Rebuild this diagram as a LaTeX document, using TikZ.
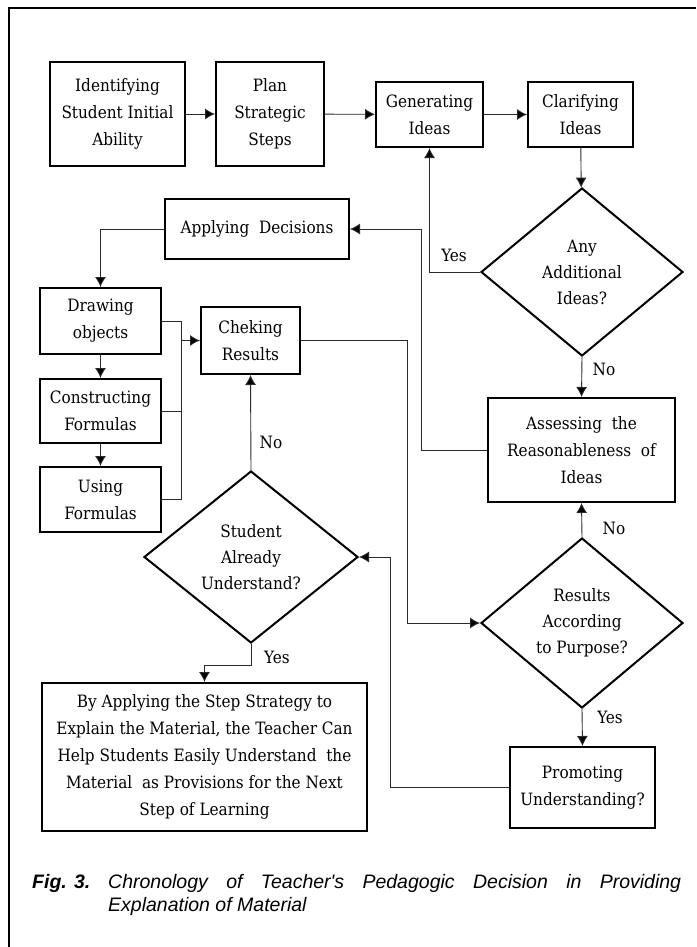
\documentclass[tikz,border=0pt]{standalone}
\usepackage{fontspec}
\setmainfont{DejaVu Serif Condensed}
\newfontfamily\capfont{Liberation Sans}
\usetikzlibrary{shapes.geometric,arrows.meta}

\definecolor{lgray}{HTML}{2A2A2A}

\tikzset{
  stepbox/.style={draw,line width=2pt,align=center,inner sep=0pt,
    font=\fontsize{17}{27}\selectfont},
  askbox/.style={draw,diamond,line width=2pt,align=center,inner sep=0pt,
    font=\fontsize{17}{26}\selectfont},
  link/.style={draw=lgray,line width=0.9pt},
  linkto/.style={link,-{Latex[length=10pt,width=11pt,fill=black]}},
  answer/.style={inner sep=0pt,font=\fontsize{17}{23}\selectfont}
}

\begin{document}
\begin{tikzpicture}[x=1pt,y=-1pt]
  \useasboundingbox (0,0) rectangle (696,947);
  \draw[line width=2pt] (9,947) -- (9,8) -- (696,8);

  \node[stepbox,minimum width=135pt,minimum height=104pt] (ident) at (117.5,114) {Identifying\\Student Initial\\Ability};
  \node[stepbox,minimum width=108pt,minimum height=104pt] (plan) at (270,114) {Plan\\Strategic\\Steps};
  \node[stepbox,minimum width=107pt,minimum height=65pt] (gen) at (429.5,114.5) {Generating\\Ideas};
  \node[stepbox,minimum width=105pt,minimum height=65pt] (clar) at (580.5,114.5) {Clarifying\\Ideas};
  \node[askbox,minimum width=202pt,minimum height=168pt] (addq) at (582,272) {Any\\Additional\\Ideas?};
  \node[stepbox,minimum width=184pt,minimum height=60pt] (apply) at (257,229) {Applying~ Decisions};
  \node[stepbox,minimum width=121pt,minimum height=66pt] (drawobj) at (100.5,321) {Drawing\\objects};
  \node[stepbox,minimum width=121pt,minimum height=64pt] (constr) at (100.5,411) {Constructing\\Formulas};
  \node[stepbox,minimum width=121pt,minimum height=65pt] (using) at (100.5,499.5) {Using\\Formulas};
  \node[stepbox,minimum width=99pt,minimum height=67pt] (check) at (250.5,340.5) {Cheking\\Results};
  \node[stepbox,minimum width=187pt,minimum height=104pt] (assess) at (581.5,450) {Assessing~ the\\Reasonableness~ of\\Ideas};
  \node[askbox,minimum width=214pt,minimum height=172pt] (underq) at (251,557) {Student\\Already\\Understand?};
  \node[askbox,minimum width=202pt,minimum height=170pt] (resq) at (582,623) {Results\\According\\to Purpose?};
  \node[stepbox,minimum width=145pt,minimum height=81pt] (promo) at (582.5,787.5) {Promoting\\Understanding?};
  \node[stepbox,minimum width=325pt,minimum height=148pt] (final) at (204.5,757) {By Applying the Step Strategy to\\Explain the Material, the Teacher Can\\Help Students Easily Understand~ the\\Material~ as Provisions for the Next\\Step of Learning};

  \coordinate (bus) at (181,340.5);

  \draw[linkto] (ident) -- (plan);
  \draw[linkto] (plan) -- (gen);
  \draw[linkto] (gen) -- (clar);
  \draw[linkto] (clar) -- (addq);
  \draw[linkto] (addq.west) -| (gen.south);
  \draw[linkto] (addq.south) -- (assess.north);
  \draw[linkto] (assess.west) -- ++(-66,0) |- (apply.east);
  \draw[linkto] (apply.west) -| (drawobj.north);
  \draw[linkto] (drawobj) -- (constr);
  \draw[linkto] (constr) -- (using);
  \draw[link] (drawobj.east) -| (bus);
  \draw[link] (using.east) -| (bus);
  \draw[link] (constr.east) -- (constr.east -| bus);
  \draw[linkto] (bus) -- (check.west);
  \draw[linkto] (check.east) -- ++(106,0) |- (resq.west);
  \draw[linkto] (underq.north) -- (check.south);
  \draw[linkto] (resq.north) -- (assess.south);
  \draw[linkto] (resq.south) -- (promo.north);
  \draw[linkto] (promo.west) -- ++(-119,0) |- (underq.east);
  \draw[linkto] (underq.south) -- ++(0,21) -| (final.north);

  \node[answer] (yes1) at (454,255) {Yes};
  \node[answer] (no1) at (604,369) {No};
  \node[answer] (no2) at (271,442) {No};
  \node[answer] (no3) at (614,528) {No};
  \node[answer] (yes2) at (610,717) {Yes};
  \node[answer] (yes3) at (277,657) {Yes};

  \node[anchor=base west,inner sep=0pt,font=\capfont\fontsize{19.5}{23}\selectfont\bfseries\itshape] (fig) at (32,888) {Fig. 3.};
  \node[anchor=base west,inner sep=0pt,font=\capfont\fontsize{19.5}{23}\selectfont\itshape] (cap1) at (108,888) {\makebox[573pt][s]{Chronology of Teacher's Pedagogic Decision in Providing}};
  \node[anchor=base west,inner sep=0pt,font=\capfont\fontsize{19.5}{23}\selectfont\itshape] (cap2) at (108,911) {Explanation of Material};
\end{tikzpicture}
\end{document}
